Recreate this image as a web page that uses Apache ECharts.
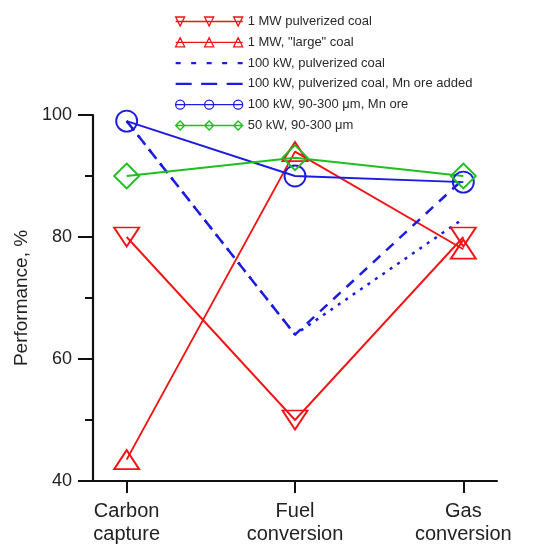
<!DOCTYPE html>
<html>
<head>
<meta charset="utf-8">
<script src="https://cdn.jsdelivr.net/npm/echarts@6/dist/echarts.min.js"></script>
<style>
  html, body { margin: 0; padding: 0; background: #fff; }
  #chart { width: 542px; height: 546px; }
</style>
</head>
<body>
<div id="chart"></div>
<script>
var categories = ["Carbon\ncapture", "Fuel\nconversion", "Gas\nconversion"];
var yTicks = [40, 60, 80, 100];

var mwPulverized = [80, 50, 80];
var mwLarge = [43.5, 94, 78];
var kwPulverized = [99, 64, 83];
var kwPulverizedMn = [99, 64, 89.5];
var kwMnOre = [99, 90, 89];
var kw50 = [90, 93, 90];

var RED = "#f21414", BLUE = "#1c1ce0", GREEN = "#1fbf1f";
var FONT = "'Liberation Sans', Arial, sans-serif";

// legend samples: line + three small markers (stroked), dashes (filled)
var legTriDown = "path://M0 4.5L67 4.5M0 0L9 0L4.5 9ZM29 0L38 0L33.5 9ZM58 0L67 0L62.5 9Z";
var legTriUp = "path://M0 4.5L67 4.5M0 9L9 9L4.5 0ZM29 9L38 9L33.5 0ZM58 9L67 9L62.5 0Z";
var legCircle = "path://M0 4.5L67 4.5M0 4.5A4.5 4.5 0 1 1 9 4.5A4.5 4.5 0 1 1 0 4.5ZM29 4.5A4.5 4.5 0 1 1 38 4.5A4.5 4.5 0 1 1 29 4.5ZM58 4.5A4.5 4.5 0 1 1 67 4.5A4.5 4.5 0 1 1 58 4.5Z";
var legDiamond = "path://M0 4.5L67 4.5M0 4.5L4.5 0L9 4.5L4.5 9ZM29 4.5L33.5 0L38 4.5L33.5 9ZM58 4.5L62.5 0L67 4.5L62.5 9Z";
var legDots = "path://M0 0M0 9M0 3.4h5v2.2h-5ZM15.5 3.4h5v2.2h-5ZM31 3.4h5v2.2h-5ZM46.5 3.4h5v2.2h-5ZM62 3.4h5v2.2h-5Z";
var legDashes = "path://M0 0M0 9M0 3.4h16v2.2h-16ZM25.5 3.4h16v2.2h-16ZM51 3.4h16v2.2h-16Z";

function pts(vals) {
  return vals.map(function (v, i) { return [i, v]; });
}

function markerSeries(name, vals, color, symbol, size, rotate) {
  return {
    name: name,
    type: "line",
    data: pts(vals),
    symbol: symbol,
    symbolSize: size,
    symbolRotate: rotate || 0,
    lineStyle: { color: color, width: 1.9 },
    itemStyle: { color: "transparent", borderColor: color, borderWidth: 1.9 },
    emphasis: { disabled: true }
  };
}

function dashSeries(name, vals, dash) {
  return {
    name: name,
    type: "line",
    data: pts(vals),
    symbol: "none",
    lineStyle: { color: BLUE, width: 2.5, type: dash },
    itemStyle: { color: BLUE },
    emphasis: { disabled: true }
  };
}

function legItem(name, icon, color) {
  return {
    name: name,
    icon: icon,
    itemStyle: { color: "transparent", borderColor: color, borderWidth: 1.3 }
  };
}

function legFill(name, icon, color) {
  return {
    name: name,
    icon: icon,
    itemStyle: { color: color, borderWidth: 0 }
  };
}

var chart = echarts.init(document.getElementById("chart"));
chart.setOption({
  animation: false,
  backgroundColor: "#fff",
  textStyle: { fontFamily: FONT },
  legend: {
    orient: "vertical",
    left: 170,
    top: 10,
    itemWidth: 67,
    itemHeight: 9,
    itemGap: 7.8,
    textStyle: { fontSize: 13, color: "#2a2a2a" },
    data: [
      legItem("1 MW pulverized coal", legTriDown, RED),
      legItem('1 MW, "large" coal', legTriUp, RED),
      legFill("100 kW, pulverized coal", legDots, BLUE),
      legFill("100 kW, pulverized coal, Mn ore added", legDashes, BLUE),
      legItem("100 kW, 90-300 μm, Mn ore", legCircle, BLUE),
      legItem("50 kW, 90-300 μm", legDiamond, GREEN)
    ]
  },
  grid: { left: 93, right: 45, top: 115, bottom: 61 },
  xAxis: {
    type: "value",
    min: -0.2,
    max: 2.2,
    splitLine: { show: false },
    axisLine: { onZero: false, lineStyle: { color: "#111", width: 2 } },
    axisTick: { show: true, length: 12, lineStyle: { color: "#111", width: 2 }, customValues: [0, 1, 2] },
    axisLabel: {
      customValues: [0, 1, 2],
      formatter: function (v) { return categories[Math.round(v)]; },
      fontSize: 20,
      lineHeight: 23,
      color: "#222",
      margin: 19
    }
  },
  yAxis: {
    type: "value",
    min: 40,
    max: 100,
    interval: 20,
    name: "Performance, %",
    nameLocation: "middle",
    nameRotate: 90,
    nameGap: 58,
    nameTextStyle: { fontSize: 19, color: "#222" },
    splitLine: { show: false },
    axisLine: { show: true, onZero: false, lineStyle: { color: "#111", width: 2.2 } },
    axisTick: { show: true, length: 15, lineStyle: { color: "#111", width: 2 } },
    minorTick: { show: true, splitNumber: 2, length: 8, lineStyle: { color: "#111", width: 2 } },
    axisLabel: {
      fontSize: 18,
      color: "#222",
      margin: 21,
      formatter: function (v) { return yTicks.indexOf(v) >= 0 ? String(v) : ""; }
    }
  },
  series: [
    markerSeries("1 MW pulverized coal", mwPulverized, RED, "triangle", [25, 19], 180),
    markerSeries('1 MW, "large" coal', mwLarge, RED, "triangle", [25, 19]),
    dashSeries("100 kW, pulverized coal", kwPulverized, [3, 6]),
    dashSeries("100 kW, pulverized coal, Mn ore added", kwPulverizedMn, [10, 8]),
    markerSeries("100 kW, 90-300 μm, Mn ore", kwMnOre, BLUE, "circle", 21),
    markerSeries("50 kW, 90-300 μm", kw50, GREEN, "diamond", 25)
  ]
});
</script>
</body>
</html>
